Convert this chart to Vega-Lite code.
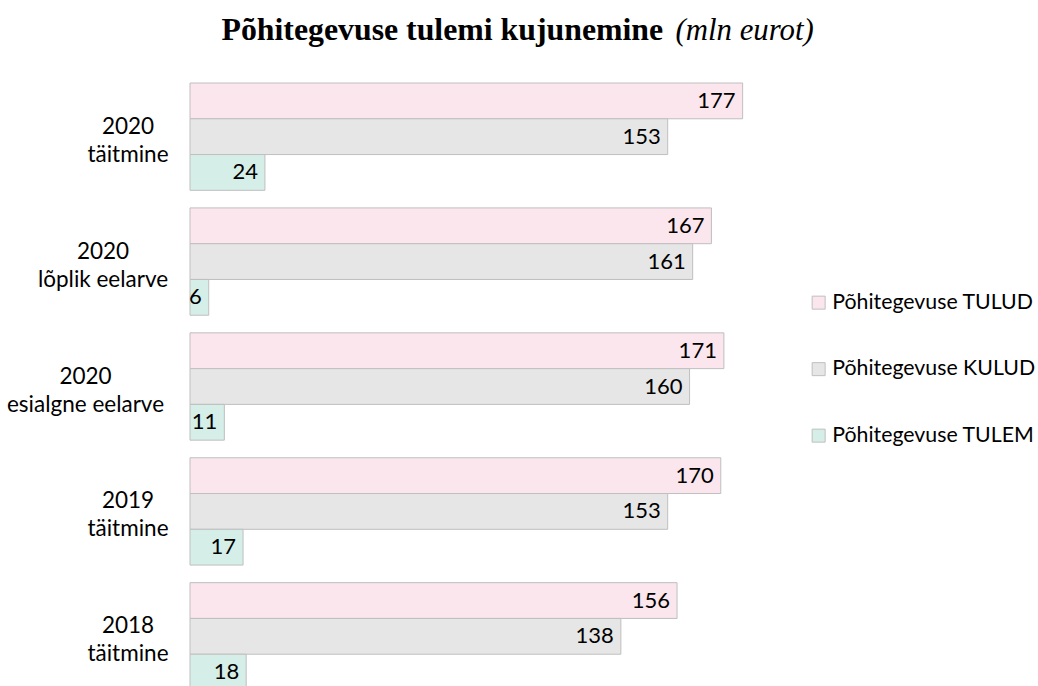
{
  "$schema": "https://vega.github.io/schema/vega-lite/v6.json",
  "autosize": {"type": "none"},
  "padding": {"left": 190, "top": 83, "right": 286, "bottom": 0},
  "width": 562,
  "height": 607,
  "background": "white",
  "data": {
    "values": [
      {"periood": "2020 täitmine", "naitaja": "Põhitegevuse TULUD", "vaartus": 177},
      {"periood": "2020 täitmine", "naitaja": "Põhitegevuse KULUD", "vaartus": 153},
      {"periood": "2020 täitmine", "naitaja": "Põhitegevuse TULEM", "vaartus": 24},
      {"periood": "2020 lõplik eelarve", "naitaja": "Põhitegevuse TULUD", "vaartus": 167},
      {"periood": "2020 lõplik eelarve", "naitaja": "Põhitegevuse KULUD", "vaartus": 161},
      {"periood": "2020 lõplik eelarve", "naitaja": "Põhitegevuse TULEM", "vaartus": 6},
      {"periood": "2020 esialgne eelarve", "naitaja": "Põhitegevuse TULUD", "vaartus": 171},
      {"periood": "2020 esialgne eelarve", "naitaja": "Põhitegevuse KULUD", "vaartus": 160},
      {"periood": "2020 esialgne eelarve", "naitaja": "Põhitegevuse TULEM", "vaartus": 11},
      {"periood": "2019 täitmine", "naitaja": "Põhitegevuse TULUD", "vaartus": 170},
      {"periood": "2019 täitmine", "naitaja": "Põhitegevuse KULUD", "vaartus": 153},
      {"periood": "2019 täitmine", "naitaja": "Põhitegevuse TULEM", "vaartus": 17},
      {"periood": "2018 täitmine", "naitaja": "Põhitegevuse TULUD", "vaartus": 156},
      {"periood": "2018 täitmine", "naitaja": "Põhitegevuse KULUD", "vaartus": 138},
      {"periood": "2018 täitmine", "naitaja": "Põhitegevuse TULEM", "vaartus": 18}
    ]
  },
  "encoding": {
    "y": {
      "field": "periood",
      "type": "nominal",
      "sort": null,
      "scale": {"paddingInner": 0.1408, "paddingOuter": 0},
      "axis": {
        "title": "Põhitegevuse tulemi kujunemine",
        "titleFont": "Liberation Serif",
        "titleFontSize": 31.8,
        "titleFontWeight": "bold",
        "titleColor": "#000000",
        "titleAngle": 0,
        "titleAlign": "left",
        "titleAnchor": "start",
        "titleBaseline": "alphabetic",
        "titleX": 31,
        "titleY": -44,
        "domain": false,
        "ticks": false,
        "labelFont": "Lato",
        "labelFontSize": 22.5,
        "labelColor": "#000000",
        "labelAlign": "center",
        "labelBaseline": "middle",
        "labelLineHeight": 28,
        "labelOffset": -10,
        "labelLimit": 0,
        "labelExpr": "[slice(datum.label, 0, 4), slice(datum.label, 5)]",
        "labelPadding": {
          "condition": [
            {"test": "datum.value === '2020 lõplik eelarve'", "value": 87.5},
            {"test": "datum.value === '2020 esialgne eelarve'", "value": 105}
          ],
          "value": 62.5
        }
      }
    },
    "yOffset": {
      "field": "naitaja",
      "type": "nominal",
      "sort": ["Põhitegevuse TULUD", "Põhitegevuse KULUD", "Põhitegevuse TULEM"],
      "scale": {"paddingInner": 0, "paddingOuter": 0}
    },
    "x": {
      "field": "vaartus",
      "type": "quantitative",
      "scale": {"domain": [0, 180], "nice": false},
      "axis": {
        "orient": "top",
        "labels": false,
        "ticks": false,
        "domain": false,
        "grid": false,
        "title": "(mln eurot)",
        "titleFont": "Liberation Serif",
        "titleFontSize": 30.8,
        "titleFontStyle": "italic",
        "titleFontWeight": "normal",
        "titleColor": "#000000",
        "titleAlign": "left",
        "titleAnchor": "start",
        "titleBaseline": "alphabetic",
        "titleX": 485,
        "titleY": -44,
        "titleAngle": 0
      }
    }
  },
  "layer": [
    {
      "mark": {"type": "bar", "stroke": "#BFBFBF", "strokeWidth": 1},
      "encoding": {
        "color": {
          "field": "naitaja",
          "type": "nominal",
          "scale": {
            "domain": ["Põhitegevuse TULUD", "Põhitegevuse KULUD", "Põhitegevuse TULEM"],
            "range": ["#FAE6EC", "#E6E6E6", "#D5EEE8"]
          },
          "legend": {
            "title": null,
            "orient": "none",
            "legendX": 618,
            "legendY": 209,
            "symbolType": "square",
            "symbolSize": 169,
            "symbolStrokeColor": "#BFBFBF",
            "symbolStrokeWidth": 1,
            "labelFont": "Lato",
            "labelFontSize": 21.3,
            "labelColor": "#000000",
            "labelOffset": 3,
            "labelLimit": 0,
            "rowPadding": 44.5
          }
        }
      }
    },
    {
      "mark": {
        "type": "text",
        "align": "right",
        "baseline": "middle",
        "dx": -7,
        "font": "Lato",
        "fontSize": 22,
        "color": "#000000"
      },
      "encoding": {
        "text": {"field": "vaartus", "type": "quantitative"}
      }
    }
  ],
  "config": {
    "view": {"stroke": null}
  }
}
